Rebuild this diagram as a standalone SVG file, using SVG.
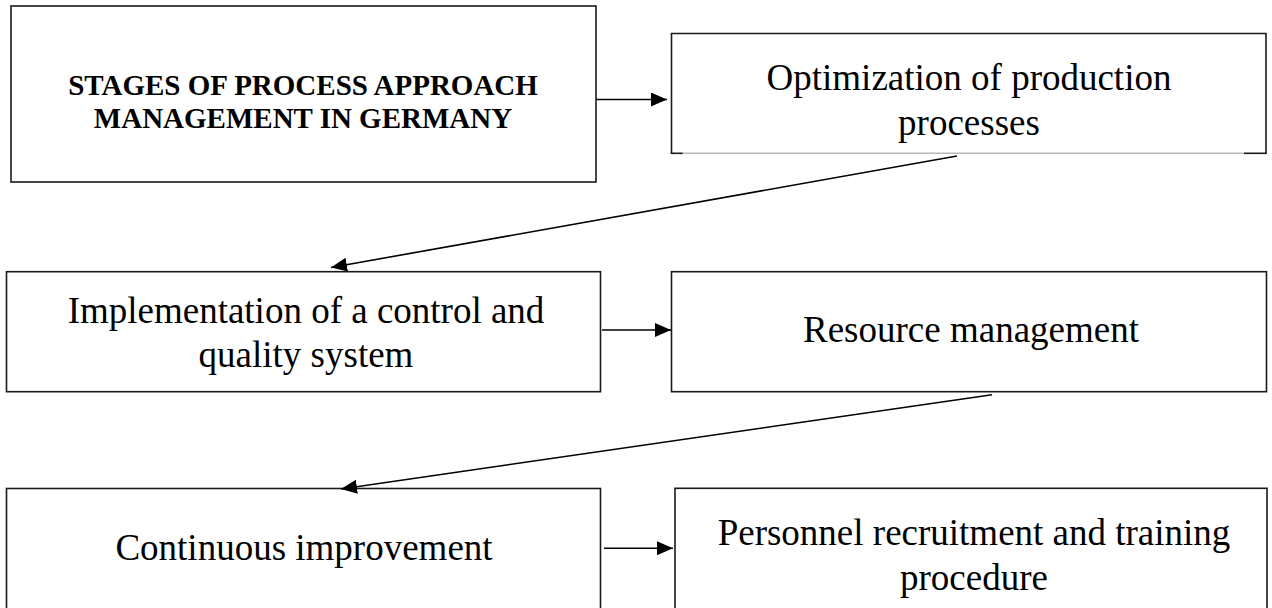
<svg xmlns="http://www.w3.org/2000/svg" width="1272" height="608" viewBox="0 0 1272 608">
  <style>
    .box { fill: #ffffff; stroke: #1a1a1a; stroke-width: 1.6; }
    .edge { fill: none; stroke: #1a1a1a; stroke-width: 1.6; }
    .lite { fill: none; stroke: #b8b8b8; stroke-width: 1.6; }
    .lbl { font-family: "Liberation Serif", "Times New Roman", serif; font-size: 37px; fill: #000; text-anchor: middle; }
    .ttl { font-family: "Liberation Serif", "Times New Roman", serif; font-size: 29px; font-weight: bold; fill: #000; text-anchor: middle; }
    .conn { fill: none; stroke: #000; stroke-width: 1.6; }
  </style>
  <defs>
    <marker id="ah" markerUnits="userSpaceOnUse" markerWidth="17" markerHeight="15" refX="16" refY="7" orient="auto">
      <path d="M0,0 L16,7 L0,14 z" fill="#000"/>
    </marker>
  </defs>
  <rect width="1272" height="608" fill="#ffffff"/>

  <g id="n-stages">
    <rect class="box" x="11" y="6" width="585" height="176"/>
    <text class="ttl" x="303" y="95">STAGES OF PROCESS APPROACH</text>
    <text class="ttl" x="303" y="128">MANAGEMENT IN GERMANY</text>
  </g>

  <g id="n-optimization">
    <rect x="671.5" y="33.5" width="594.5" height="120" fill="#ffffff" stroke="none"/>
    <path class="edge" d="M671.5,153.3 L671.5,33.5 L1266,33.5 L1266,153.3"/>
    <line class="lite" x1="682.7" y1="153.3" x2="1244" y2="153.3"/>
    <line class="edge" x1="670.7" y1="153.3" x2="682.7" y2="153.3"/>
    <line class="edge" x1="1244" y1="153.3" x2="1266.8" y2="153.3"/>
    <text class="lbl" x="969" y="90">Optimization of production</text>
    <text class="lbl" x="969" y="135">processes</text>
  </g>

  <g id="n-implementation">
    <rect class="box" x="6.5" y="271.7" width="594" height="120"/>
    <text class="lbl" x="306" y="323">Implementation of a control and</text>
    <text class="lbl" x="306" y="367">quality system</text>
  </g>

  <g id="n-resource">
    <rect class="box" x="671.5" y="271.7" width="595" height="120"/>
    <text class="lbl" x="971" y="342">Resource management</text>
  </g>

  <g id="n-continuous">
    <rect class="box" x="6.5" y="488.5" width="594" height="130"/>
    <text class="lbl" x="304" y="560">Continuous improvement</text>
  </g>

  <g id="n-personnel">
    <rect class="box" x="675" y="488.3" width="592" height="130"/>
    <text class="lbl" x="974" y="545">Personnel recruitment and training</text>
    <text class="lbl" x="974" y="590">procedure</text>
  </g>

  <g id="connectors">
    <line class="conn" x1="596" y1="99.5" x2="667" y2="99.5" marker-end="url(#ah)"/>
    <line class="conn" x1="957" y1="156" x2="331" y2="267.5" marker-end="url(#ah)"/>
    <line class="conn" x1="602" y1="330" x2="671" y2="330" marker-end="url(#ah)"/>
    <line class="conn" x1="992" y1="394.7" x2="341" y2="489" marker-end="url(#ah)"/>
    <line class="conn" x1="604" y1="548.3" x2="673" y2="548.3" marker-end="url(#ah)"/>
  </g>
</svg>
